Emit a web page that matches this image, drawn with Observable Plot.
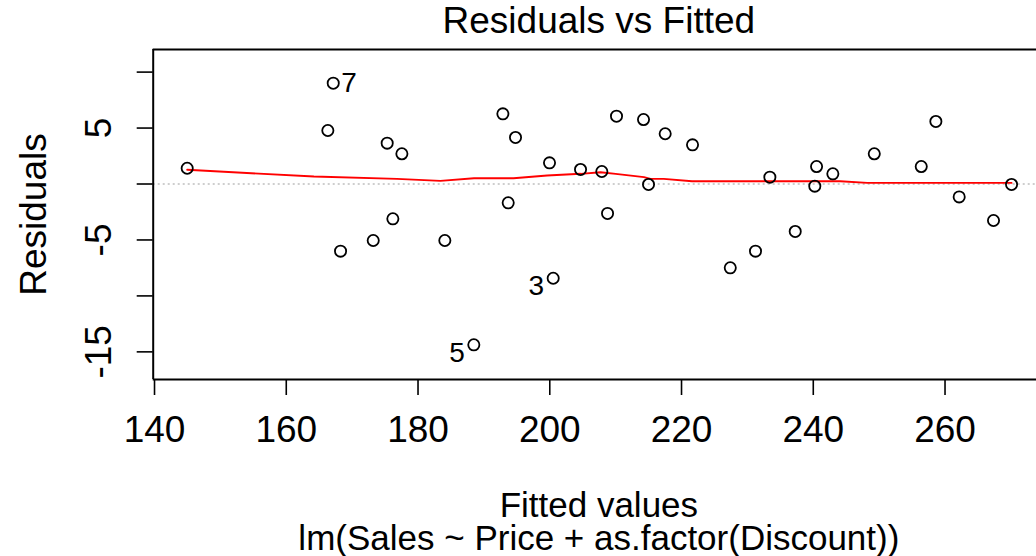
<!DOCTYPE html>
<html><head><meta charset="utf-8">
<script src="https://cdn.jsdelivr.net/npm/d3@7"></script>
<script src="https://cdn.jsdelivr.net/npm/@observablehq/plot@0.6"></script>
<style>
html,body{margin:0;padding:0;background:#fff;overflow:hidden;}
#chart svg{display:block;overflow:hidden;}
</style></head><body><div id="chart"></div>
<script>
// Data
const fitted = [144.96, 167.13, 166.31, 175.32, 177.55, 176.18, 173.2, 168.24, 184.07, 193.69, 200.52, 188.47,
  192.88, 194.8, 199.96, 204.67, 207.9, 210.13, 214.23, 217.52, 221.67, 214.99, 208.77,
  233.41, 240.5, 242.97, 240.23, 249.26, 256.39, 258.61, 270.1, 262.15, 267.36, 237.26, 227.4, 231.23];
const residuals = [1.41, 9.01, 4.78, 3.65, 2.70, -3.11, -5.05, -6.0, -5.05, -1.68, -8.42, -14.37,
  6.27, 4.16, 1.89, 1.30, 1.12, 6.06, 5.76, 4.49, 3.50, -0.04, -2.63,
  0.61, 1.56, 0.91, -0.19, 2.70, 1.56, 5.59, -0.04, -1.15, -3.26, -4.24, -7.49, -6.0];
const idNames = ["7", "3", "5"];
const idIndex = [1, 10, 11];
const idSide = ["right", "left", "left"];
const smoothFitted = [144.96, 164.2, 176.8, 183.4, 188.5, 194.5, 199.6, 204.7, 207.7, 210.0, 214.3, 215.3, 217.3, 221.6, 233.4, 240.2, 244.1, 248.2, 256.4, 270.1];
const smoothResid = [1.27, 0.67, 0.46, 0.28, 0.52, 0.52, 0.76, 0.91, 1.05, 0.91, 0.61, 0.46, 0.46, 0.25, 0.25, 0.25, 0.25, 0.1, 0.1, 0.1];
const xTicks = [140, 160, 180, 200, 220, 240, 260];
const yTicks = [-15, -10, -5, 0, 5, 10];
const yTickLabels = [5, -5, -15];
const titleText = "Residuals vs Fitted";
const xLabel = "Fitted values";
const subCaption = "lm(Sales ~ Price + as.factor(Discount))";
const yLabel = "Residuals";
const xDomain = [139.8, 275.1];
const yDomain = [-17.47, 12.02];

const font = "'Liberation Sans', Arial, Helvetica, sans-serif";
const FS = 37;
const FSB = 35;
const pts = fitted.map((f, i) => ({f, r: residuals[i]}));
const labs = idIndex.map((k, j) => ({f: fitted[k], r: residuals[k], name: idNames[j], side: idSide[j]}));
const smooth = smoothFitted.map((f, i) => ({f, r: smoothResid[i]}));

const chart = Plot.plot({
  width: 1036, height: 556,
  marginTop: 49, marginBottom: 177, marginLeft: 152.7, marginRight: -8,
  style: {fontFamily: font, background: "#fff", overflow: "hidden", color: "black"},
  x: {domain: xDomain, axis: null},
  y: {domain: yDomain, axis: null},
  marks: [
    Plot.ruleY([0], {stroke: "#bebebe", strokeWidth: 1.5, strokeDasharray: "2,3"}),
    Plot.line(smooth, {x: "f", y: "r", stroke: "red", strokeWidth: 1.9}),
    Plot.dot(pts, {x: "f", y: "r", r: 5.6, stroke: "black", strokeWidth: 1.8, fill: "none"}),
    Plot.text(labs.filter(d => d.side === "right"), {x: "f", y: "r", text: "name", textAnchor: "start", dx: 8, fontSize: 28, fill: "black"}),
    Plot.text(labs.filter(d => d.side === "left"), {x: "f", y: "r", text: "name", textAnchor: "end", dx: -9, dy: 8, fontSize: 28, fill: "black"}),
    Plot.ruleY([yDomain[1]], {stroke: "black", strokeWidth: 2}),
    Plot.ruleY([yDomain[0]], {stroke: "black", strokeWidth: 2}),
    Plot.ruleX([xDomain[0]], {stroke: "black", strokeWidth: 2}),
    Plot.axisX({ticks: xTicks, tickSize: 16, tickPadding: 20, fontSize: FS, label: null, anchor: "bottom", strokeWidth: 1.6}),
    Plot.axisY({ticks: yTicks, tickSize: 16, tickFormat: () => "", label: null, anchor: "left", strokeWidth: 1.6}),
    Plot.text(yTickLabels, {y: d => d, text: d => String(d), frameAnchor: "left", rotate: -90, dx: -42.7, lineAnchor: "bottom", textAnchor: "middle", fontSize: FS, fill: "black"}),
    Plot.text([titleText], {text: d => d, frameAnchor: "top", lineAnchor: "bottom", dy: -17, fontSize: FS, fill: "black"}),
    Plot.text([xLabel], {text: d => d, frameAnchor: "bottom", lineAnchor: "bottom", dy: 137, fontSize: FSB, fill: "black"}),
    Plot.text([subCaption], {text: d => d, frameAnchor: "bottom", lineAnchor: "bottom", dy: 170, fontSize: FSB, fill: "black"}),
    Plot.text([yLabel], {text: d => d, frameAnchor: "left", rotate: -90, lineAnchor: "bottom", textAnchor: "middle", dx: -107.7, fontSize: FS, fill: "black"})
  ]
});
document.getElementById("chart").appendChild(chart);
</script>
</body></html>
